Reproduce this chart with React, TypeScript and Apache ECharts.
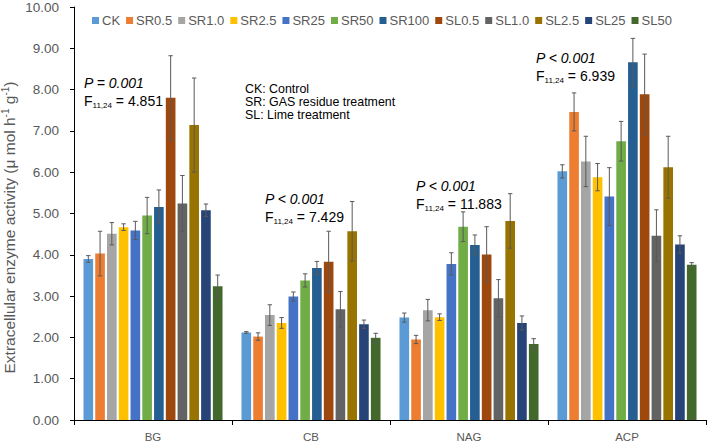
import React, { useEffect, useRef } from "react";
import * as echarts from "echarts";

const categories = ["BG", "CB", "NAG", "ACP"];
const treatments = ["CK", "SR0.5", "SR1.0", "SR2.5", "SR25", "SR50", "SR100", "SL0.5", "SL1.0", "SL2.5", "SL25", "SL50"];
const colors = ["#5B9BD5", "#ED7D31", "#A5A5A5", "#FFC000", "#4472C4", "#70AD47", "#255E91", "#9E480E", "#636363", "#997300", "#264478", "#43682B"];

// mean values per treatment, in order BG, CB, NAG, ACP
const CK = [3.9, 2.12, 2.48, 6.02];
const SR05 = [4.03, 2.02, 1.95, 7.46];
const SR10 = [4.51, 2.54, 2.66, 6.26];
const SR25a = [4.67, 2.35, 2.49, 5.88];
const SR25 = [4.59, 2.99, 3.78, 5.41];
const SR50 = [4.95, 3.38, 4.68, 6.75];
const SR100 = [5.16, 3.68, 4.24, 8.66];
const SL05 = [7.8, 3.83, 4.01, 7.89];
const SL10 = [5.24, 2.68, 2.95, 4.46];
const SL25a = [7.14, 4.57, 4.82, 6.12];
const SL25 = [5.08, 2.32, 2.35, 4.25];
const SL50 = [3.24, 1.99, 1.84, 3.76];

// standard errors
const CKe = [0.08, 0.02, 0.11, 0.16];
const SR05e = [0.54, 0.09, 0.1, 0.46];
const SR10e = [0.27, 0.25, 0.26, 0.61];
const SR25ae = [0.08, 0.13, 0.08, 0.33];
const SR25e = [0.22, 0.11, 0.27, 0.7];
const SR50e = [0.44, 0.16, 0.36, 0.48];
const SR100e = [0.41, 0.16, 0.24, 0.58];
const SL05e = [1.02, 0.74, 0.67, 0.97];
const SL10e = [0.68, 0.43, 0.45, 0.63];
const SL25ae = [1.14, 0.72, 0.66, 0.75];
const SL25e = [0.15, 0.1, 0.17, 0.21];
const SL50e = [0.27, 0.11, 0.13, 0.05];

const means = [CK, SR05, SR10, SR25a, SR25, SR50, SR100, SL05, SL10, SL25a, SL25, SL50];
const errs = [CKe, SR05e, SR10e, SR25ae, SR25e, SR50e, SR100e, SL05e, SL10e, SL25ae, SL25e, SL50e];

const yTicks = [0, 1, 2, 3, 4, 5, 6, 7, 8, 9, 10];

const stats = [
  { p: "P = 0.001", f: "4.851", x: 84, y: 76 },
  { p: "P < 0.001", f: "7.429", x: 265, y: 192 },
  { p: "P < 0.001", f: "11.883", x: 416, y: 179 },
  { p: "P < 0.001", f: "6.939", x: 536, y: 51 },
];

const noteLines = ["CK: Control", "SR: GAS residue treatment", "SL: Lime treatment"];

const CAT_GAP = 0.12;
const BAR_GAP = 0.22;
const FONT = "'Liberation Sans', Arial, sans-serif";

export default function App() {
  const ref = useRef<HTMLDivElement>(null);
  useEffect(() => {
    if (!ref.current) return;
    const chart = echarts.init(ref.current, null, { renderer: "svg" });
    const n = treatments.length;
    const barSeries = treatments.map((name, i) => ({
      name,
      type: "bar",
      data: means[i],
      itemStyle: { color: colors[i] },
      barGap: `${BAR_GAP * 100}%`,
      barCategoryGap: `${CAT_GAP * 100}%`,
    }));
    const errData: number[][] = [];
    means.forEach((arr, s) => {
      arr.forEach((v, c) => {
        errData.push([c, v, errs[s][c], s]);
      });
    });
    const errSeries = {
      type: "custom",
      name: "err",
      data: errData,
      encode: { x: 0, y: 1 },
      z: 10,
      renderItem: (params: any, api: any) => {
        const c = api.value(0);
        const v = api.value(1);
        const e = api.value(2);
        const s = api.value(3);
        const band = api.size([1, 0])[0];
        const inner = band * (1 - CAT_GAP);
        const w = inner / (n + (n - 1) * BAR_GAP);
        const step = w * (1 + BAR_GAP);
        const cx = api.coord([c, 0])[0] + (s - (n - 1) / 2) * step;
        const top = api.coord([c, v + e])[1];
        const bot = api.coord([c, v - e])[1];
        const cap = 2.2;
        const st = { stroke: "#595959", lineWidth: 1 };
        return {
          type: "group",
          children: [
            { type: "line", shape: { x1: cx, y1: top, x2: cx, y2: bot }, style: st },
            { type: "line", shape: { x1: cx - cap, y1: top, x2: cx + cap, y2: top }, style: st },
            { type: "line", shape: { x1: cx - cap, y1: bot, x2: cx + cap, y2: bot }, style: st },
          ],
        };
      },
    };

    const graphics: any[] = [];
    stats.forEach((st) => {
      graphics.push({
        type: "text",
        left: st.x,
        top: st.y,
        style: {
          text: st.p,
          fontFamily: FONT,
          fontSize: 14,
          fontStyle: "italic",
          fill: "#000",
        },
      });
      graphics.push({
        type: "text",
        left: st.x,
        top: st.y + 18,
        style: {
          text: `{f|F}{s|11,24}{f| = ${st.f}}`,
          rich: {
            f: { fontSize: 14, fontFamily: FONT, fill: "#000", lineHeight: 16, verticalAlign: "bottom" },
            s: { fontSize: 8, fontFamily: FONT, fill: "#000", lineHeight: 16, verticalAlign: "bottom", padding: [0, 0, -1, 0] },
          },
        },
      });
    });
    noteLines.forEach((t, i) => {
      graphics.push({
        type: "text",
        left: 245,
        top: 83 + i * 13,
        style: { text: t, fontFamily: FONT, fontSize: 12.4, fill: "#000" },
      });
    });

    chart.setOption({
      animation: false,
      backgroundColor: "#fff",
      textStyle: { fontFamily: FONT },
      grid: { left: 74, right: 3, top: 7, bottom: 28, containLabel: false, outerBoundsMode: "none" },
      legend: {
        data: treatments,
        top: 9,
        left: 87,
        icon: "rect",
        itemWidth: 7,
        itemHeight: 7,
        itemGap: 6,
        textStyle: { color: "#595959", fontSize: 13, fontFamily: FONT, padding: [0, 0, 0, -2] },
      },
      xAxis: {
        type: "category",
        data: categories,
        axisLine: { lineStyle: { color: "#000", width: 1 } },
        axisTick: { show: true, length: 5, lineStyle: { color: "#000" } },
        axisLabel: { color: "#595959", fontSize: 11.5, margin: 11, fontFamily: FONT },
      },
      yAxis: {
        type: "value",
        min: yTicks[0],
        max: yTicks[yTicks.length - 1],
        interval: 1,
        splitLine: { show: false },
        axisLine: { show: true, lineStyle: { color: "#000", width: 1 } },
        axisTick: { show: true, length: 4, lineStyle: { color: "#000" } },
        axisLabel: { color: "#595959", fontSize: 13.5, formatter: (v: number) => v.toFixed(2), fontFamily: FONT, margin: 15 },
        name: "{n|Extracellular enzyme activity (μ mol h}{s|-1}{n| g}{s|-1}{n|)}",
        nameLocation: "middle",
        nameGap: 57,
        nameMoveOverlap: false,
        nameRotate: 90,
        nameTextStyle: {
          color: "#595959",
          fontSize: 15.5,
          fontFamily: FONT,
          padding: [0, 28, 0, 0],
          rich: {
            n: { fontSize: 15.5, color: "#595959", fontFamily: FONT, lineHeight: 17, verticalAlign: "bottom" },
            s: { fontSize: 10, color: "#595959", fontFamily: FONT, lineHeight: 17, verticalAlign: "top" },
          },
        },
      },
      graphic: graphics,
      series: [...barSeries, errSeries],
    });
    return () => chart.dispose();
  }, []);
  return <div ref={ref} style={{ width: 709, height: 448, position: "absolute", left: 0, top: 0 }} />;
}
